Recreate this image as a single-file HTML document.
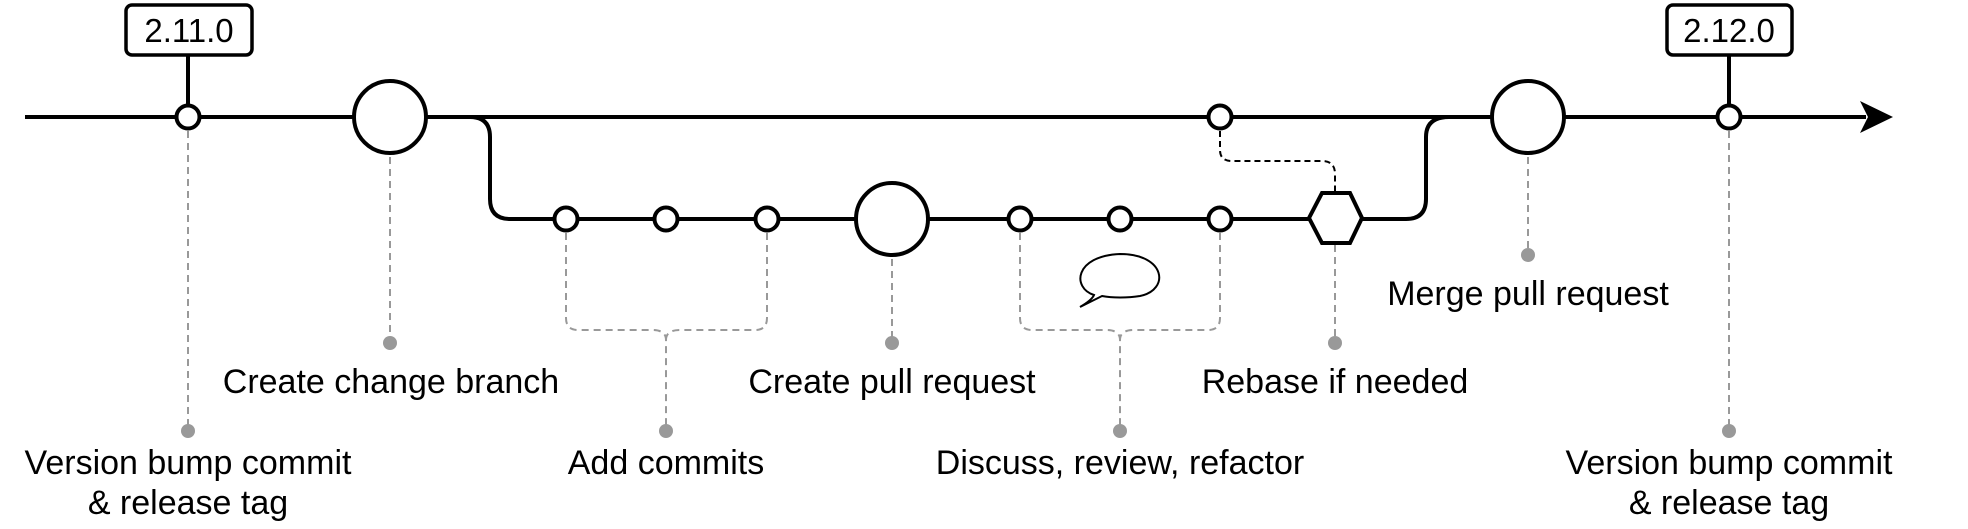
<!DOCTYPE html>
<html><head><meta charset="utf-8"><style>
html,body{margin:0;padding:0;background:#fff;}
svg{display:block;}
text{font-family:"Liberation Sans",Arial,sans-serif;font-size:34px;fill:#000;}
</style></head><body>
<svg width="1968" height="529" viewBox="0 0 1968 529" xmlns="http://www.w3.org/2000/svg">
<g fill="none" stroke="#999" stroke-width="2" stroke-dasharray="7,5">
<line x1="188" y1="131" x2="188" y2="425"/>
<line x1="390" y1="157" x2="390" y2="337"/>
<line x1="892" y1="259" x2="892" y2="337"/>
<line x1="1335" y1="245" x2="1335" y2="337"/>
<line x1="1528" y1="157" x2="1528" y2="249"/>
<line x1="1729" y1="131" x2="1729" y2="425"/>
<path d="M566 233 V318 Q566 330 578 330 H652 Q666 330 666 340 V425"/>
<path d="M767 233 V318 Q767 330 755 330 H680 Q666 330 666 340"/>
<path d="M1020 233 V318 Q1020 330 1032 330 H1106 Q1120 330 1120 340 V425"/>
<path d="M1220 233 V318 Q1220 330 1208 330 H1134 Q1120 330 1120 340"/>
</g>
<g fill="#999">
<circle cx="188" cy="431" r="7"/>
<circle cx="390" cy="343" r="7"/>
<circle cx="666" cy="431" r="7"/>
<circle cx="892" cy="343" r="7"/>
<circle cx="1120" cy="431" r="7"/>
<circle cx="1335" cy="343" r="7"/>
<circle cx="1528" cy="255" r="7"/>
<circle cx="1729" cy="431" r="7"/>
</g>
<path d="M1220 131 V150 Q1220 161 1232 161 H1322 Q1335 161 1335 174 V192" fill="none" stroke="#000" stroke-width="2" stroke-dasharray="6,4"/>
<g fill="none" stroke="#000" stroke-width="4">
<line x1="25" y1="117" x2="1866" y2="117"/>
<path d="M470 117 Q490 117 490 137 V199 Q490 219 510 219 H1406 Q1426 219 1426 199 V137 Q1426 117 1449 117"/>
<line x1="188" y1="55" x2="188" y2="105"/>
<line x1="1729" y1="55" x2="1729" y2="105"/>
</g>
<polygon points="1893,117 1860,101 1868,117 1860,133" fill="#000"/>
<g fill="#fff" stroke="#000" stroke-width="3.5">
<rect x="126" y="5" width="126" height="50" rx="6"/>
<rect x="1667" y="5" width="125" height="50" rx="6"/>
</g>
<text x="189" y="42" text-anchor="middle" style="font-size:33px">2.11.0</text>
<text x="1729" y="42" text-anchor="middle" style="font-size:33px">2.12.0</text>
<g fill="#fff" stroke="#000" stroke-width="4">
<circle cx="188" cy="117" r="11.5"/>
<circle cx="390" cy="117" r="36"/>
<circle cx="1220" cy="117" r="11.5"/>
<circle cx="1528" cy="117" r="36"/>
<circle cx="1729" cy="117" r="11.5"/>
<circle cx="566" cy="219" r="11.5"/>
<circle cx="666" cy="219" r="11.5"/>
<circle cx="767" cy="219" r="11.5"/>
<circle cx="892" cy="219" r="36"/>
<circle cx="1020" cy="219" r="11.5"/>
<circle cx="1120" cy="219" r="11.5"/>
<circle cx="1220" cy="219" r="11.5"/>
<polygon points="1309,218 1322,193 1350,193 1362,218 1350,243 1322,243"/>
</g>
<path d="M1094 295 C1072 288 1074 256 1120 254 C1166 254 1170 290 1140 296 C1128 298 1112 298 1102 296 L1080 307 Q1092 300 1094 295 Z" fill="#fff" stroke="#000" stroke-width="2"/>
<text x="391" y="393" text-anchor="middle">Create change branch</text>
<text x="892" y="393" text-anchor="middle">Create pull request</text>
<text x="1335" y="393" text-anchor="middle">Rebase if needed</text>
<text x="1528" y="305" text-anchor="middle">Merge pull request</text>
<text x="666" y="474" text-anchor="middle">Add commits</text>
<text x="1120" y="474" text-anchor="middle">Discuss, review, refactor</text>
<text x="188" y="474" text-anchor="middle">Version bump commit</text>
<text x="188" y="514" text-anchor="middle">&amp; release tag</text>
<text x="1729" y="474" text-anchor="middle">Version bump commit</text>
<text x="1729" y="514" text-anchor="middle">&amp; release tag</text>
</svg>
</body></html>
